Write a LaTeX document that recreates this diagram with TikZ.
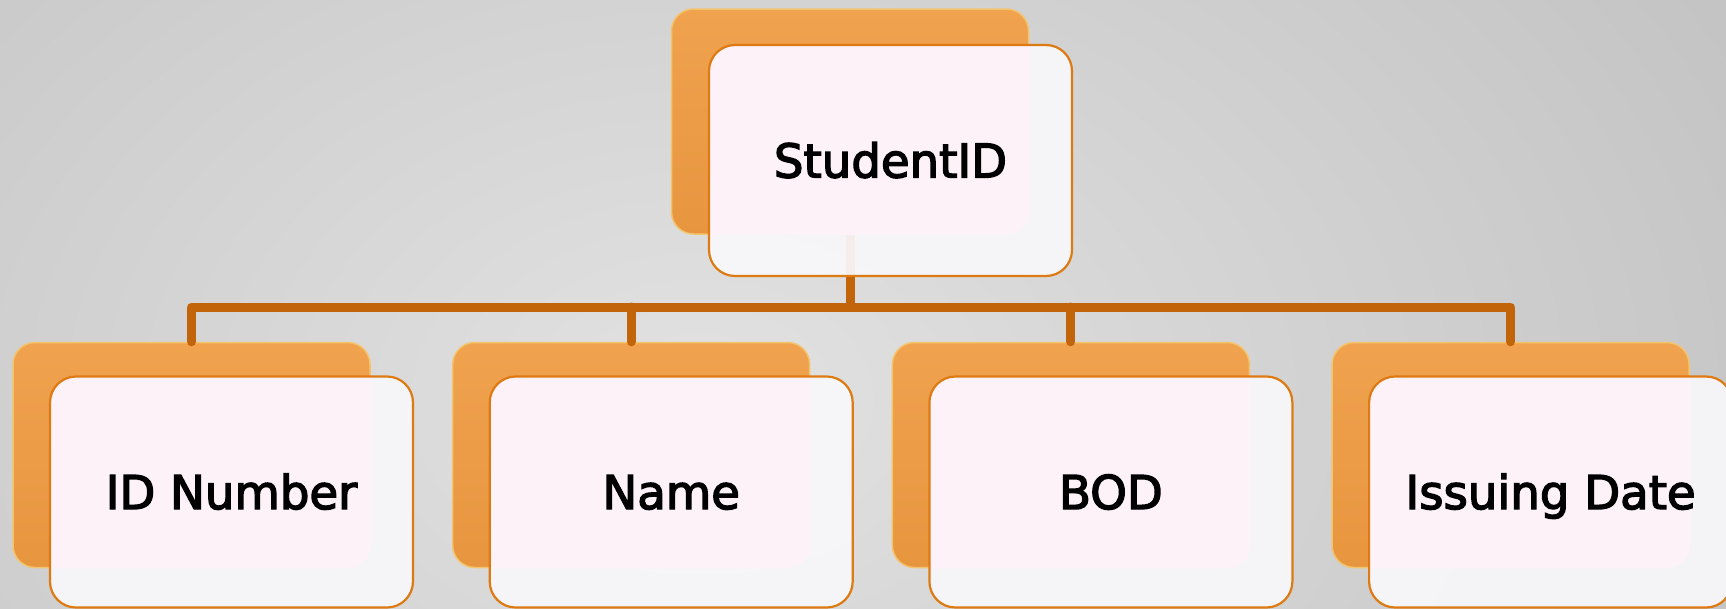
\documentclass[tikz,border=0pt]{standalone}
\usepackage{fontspec}
\setmainfont{DejaVu Sans}
\newfontfamily\labfont{DejaVu Sans}[FakeBold=3]
\definecolor{bgin}{HTML}{E2E2E2}
\definecolor{bgout}{HTML}{AEAEAE}
\definecolor{orgtop}{HTML}{F0A24E}
\definecolor{orgbot}{HTML}{E8953F}
\definecolor{orgrim}{HTML}{F3C46C}
\definecolor{conncol}{HTML}{C2640A}
\definecolor{frontrim}{HTML}{DE7A12}
\definecolor{frontfillc}{HTML}{F8F8FB}
\definecolor{pinkfill}{HTML}{FCF2F8}
\tikzset{
  backbox/.style={rectangle, rounded corners=22pt, inner sep=0pt,
    minimum width=357pt, minimum height=225pt, top color=orgtop, bottom color=orgbot,
    draw=orgrim, line width=1.5pt},
  frontfill/.style={rectangle, rounded corners=26pt, inner sep=0pt,
    minimum width=363pt, minimum height=231pt, fill=frontfillc, fill opacity=0.93},
  frontbox/.style={rectangle, rounded corners=26pt, inner sep=0pt,
    minimum width=363pt, minimum height=231pt, draw=frontrim, line width=2.2pt,
    font=\labfont\fontsize{46.6}{56}\selectfont, text=black,
    text height=34pt, text depth=0pt},
  conn/.style={draw=conncol, line width=9pt, line cap=round, line join=round}
}
\begin{document}
\begin{tikzpicture}[x=1pt,y=-1pt]
\useasboundingbox (0,0) rectangle (1726,608);
\shade[inner color=bgin, outer color=bgout] (-1300,-1000) rectangle (2700,1800);
% back boxes
\node[backbox] (tb) at (850,121.5) {};
\node[backbox] (b1) at (191.5,455) {};
\node[backbox] (b2) at (631.2,455) {};
\node[backbox] (b3) at (1070.9,455) {};
\node[backbox] (b4) at (1510.6,455) {};
% connectors
\coordinate (bar) at (0,307);
\draw[conn] (tb.south) -- (tb.south |- bar);
\draw[conn] (b1.north) -- (b1.north |- bar) -- (b4.north |- bar) -- (b4.north);
\draw[conn] (b2.north |- bar) -- (b2.north);
\draw[conn] (b3.north |- bar) -- (b3.north);
% front fills
\node[frontfill] (tf) at (890.5,160.5) {};
\node[frontfill] (f1) at (231.5,492) {};
\node[frontfill] (f2) at (671.2,492) {};
\node[frontfill] (f3) at (1110.9,492) {};
\node[frontfill] (f4) at (1550.6,492) {};
\foreach \f/\b in {tf/tb,f1/b1,f2/b2,f3/b3,f4/b4}{
  \begin{scope}
    \clip[rounded corners=26pt] (\f.north west) rectangle (\f.south east);
    \fill[pinkfill, rounded corners=22pt] (\b.north west) rectangle (\b.south east);
  \end{scope}
}
% front boxes with text
\node[frontbox] (t) at (tf) {StudentID};
\node[frontbox] (n1) at (f1) {ID Number};
\node[frontbox] (n2) at (f2) {Name};
\node[frontbox] (n3) at (f3) {BOD};
\node[frontbox] (n4) at (f4) {Issuing Date};
\end{tikzpicture}
\end{document}
